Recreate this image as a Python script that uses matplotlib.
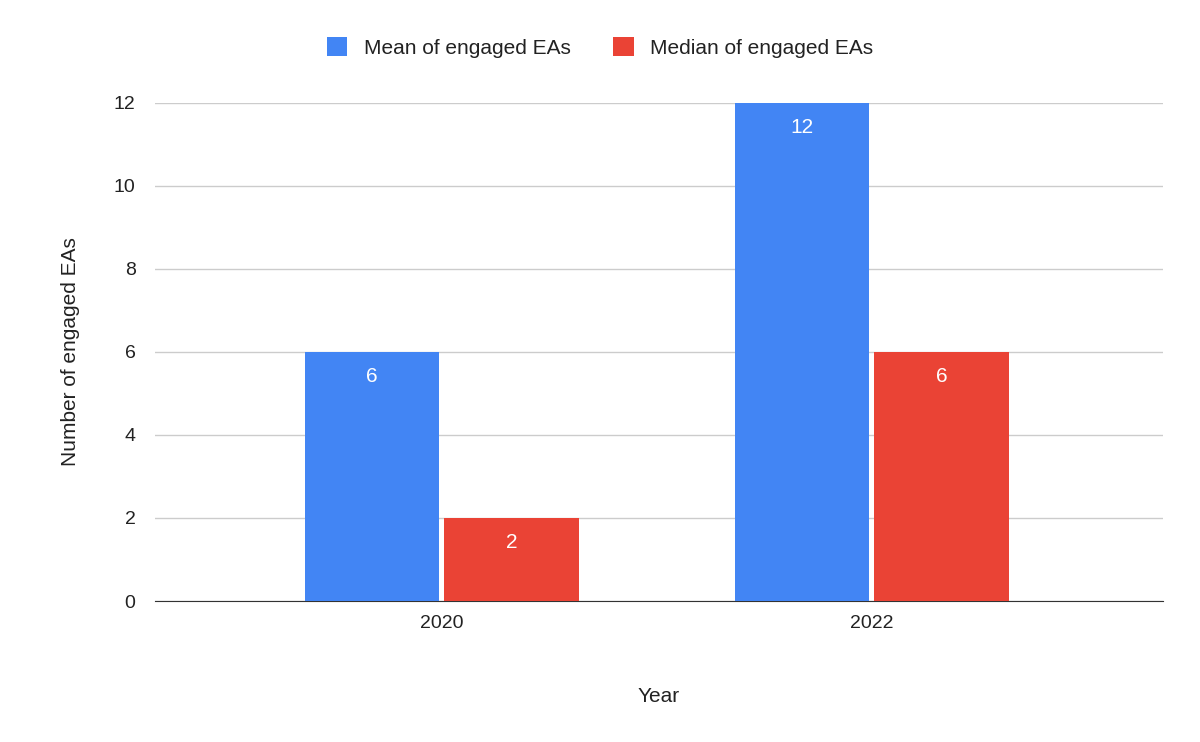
import matplotlib
matplotlib.use("Agg")
import matplotlib.pyplot as plt
import numpy as np

plt.rcParams['font.family'] = ['Liberation Sans', 'DejaVu Sans']

years = ["2020", "2022"]
mean_vals = [6, 12]
median_vals = [2, 6]
series = ["Mean of engaged EAs", "Median of engaged EAs"]
colors = ["#4285f4", "#ea4335"]

fig = plt.figure(figsize=(12, 7.42), dpi=100)
ax = fig.add_axes([155/1200, 1-601/742, (1163-155)/1200, (601-103)/742])

x = np.arange(len(years))
w = 0.312
off = 0.162
for vals, c, lab, sgn in [(mean_vals, colors[0], series[0], -1), (median_vals, colors[1], series[1], 1)]:
    bars = ax.bar(x + sgn*off, vals, w, color=c, label=lab, zorder=3)
    for b, v in zip(bars, vals):
        ax.annotate(str(v), (b.get_x()+b.get_width()/2, v), xytext=(0, -11),
                    textcoords="offset points", ha="center", va="top",
                    color="white", fontsize=15, zorder=4)

ax.set_xlim(-0.667, 1.677)
ax.set_ylim(0, 12)
ax.set_yticks([0, 2, 4, 6, 8, 10, 12])
ax.set_xticks(x)
ax.set_xticklabels(years)
ax.grid(axis="y", color="#cccccc", linewidth=1, zorder=0)
for s in ["top", "right", "left"]:
    ax.spines[s].set_visible(False)
ax.spines["bottom"].set_color("#333333")
ax.tick_params(axis="both", length=0, labelsize=14, colors="#222222", pad=10)
ax.tick_params(axis="y", pad=14)
ax.set_xlabel("Year", fontsize=15, color="#222222", labelpad=40)
ax.set_ylabel("Number of engaged EAs", fontsize=15, color="#222222", labelpad=24)

fig.legend(loc="upper center", bbox_to_anchor=(0.5, 0.975), ncol=2, frameon=False,
           fontsize=15, handlelength=1.0, handleheight=1.0, columnspacing=2.0,
           labelcolor="#222222")

fig.savefig("out.png", dpi=100, facecolor="white")
